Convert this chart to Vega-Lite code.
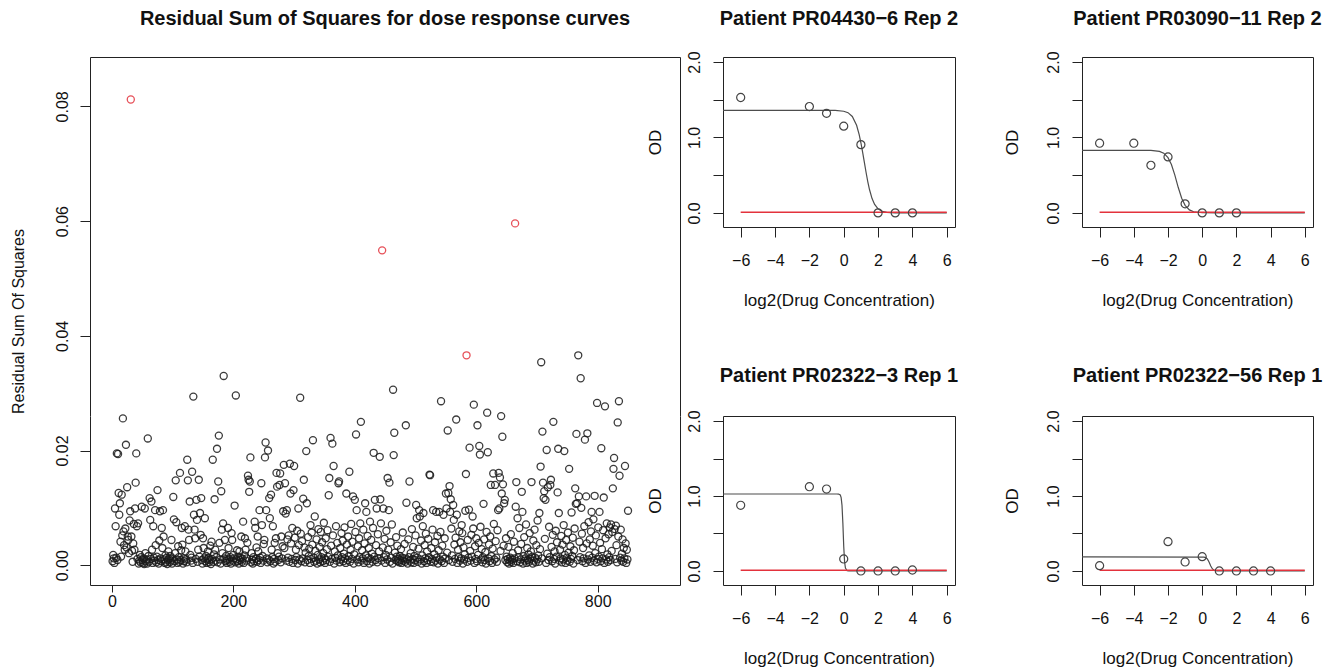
{
"$schema":"https://vega.github.io/schema/vega-lite/v6.json",
"padding":{"left":10,"top":8,"right":0,"bottom":0},
"background":"white",
"config":{
 "font":"Liberation Sans",
 "view":{"stroke":"#222222","strokeWidth":1},
 "axis":{"grid":false,"domain":false,"domainColor":"#222222","domainWidth":1,"tickSize":10,"tickColor":"#222222","labelFont":"Liberation Sans","titleFont":"Liberation Sans","labelFontSize":16,"labelColor":"#111111","titleFontSize":17,"titleFontWeight":"normal","titleColor":"#111111","labelFlush":false,"labelOverlap":false,"labelBound":false},
 "axisX":{"labelOverlap":false},
 "axisY":{"labelOverlap":false},
 "title":{"font":"Liberation Sans","fontSize":20,"fontWeight":"bold","color":"#111111","frame":"group","anchor":"middle","baseline":"alphabetic"}
},
"datasets":{
"rss":[
{"i":1,"r":0.0007},{"i":2,"r":0.0018},{"i":3,"r":0.0012},{"i":4,"r":0.0004},{"i":5,"r":0.0099},{"i":6,"r":0.0068},{"i":7,"r":0.0013},{"i":8,"r":0.0195},{"i":9,"r":0.0009},{"i":10,"r":0.0194},
{"i":11,"r":0.0126},{"i":12,"r":0.0088},{"i":13,"r":0.0108},{"i":14,"r":0.0041},{"i":15,"r":0.0015},{"i":16,"r":0.0123},{"i":17,"r":0.0052},{"i":18,"r":0.0256},{"i":19,"r":0.0059},{"i":20,"r":0.0035},
{"i":21,"r":0.0027},{"i":22,"r":0.0064},{"i":23,"r":0.0210},{"i":24,"r":0.0031},{"i":25,"r":0.0136},{"i":26,"r":0.0050},{"i":27,"r":0.0044},{"i":28,"r":0.0021},{"i":29,"r":0.0078},{"i":30,"r":0.0094},
{"i":31,"r":0.0812,"fit":"poor"},{"i":32,"r":0.0050},{"i":33,"r":0.0025},{"i":34,"r":0.0006},{"i":35,"r":0.0038},{"i":36,"r":0.0072},{"i":37,"r":0.0027},{"i":38,"r":0.0099},{"i":39,"r":0.0144},{"i":40,"r":0.0195},
{"i":41,"r":0.0068},{"i":42,"r":0.0011},{"i":43,"r":0.0073},{"i":44,"r":0.0003},{"i":45,"r":0.0008},{"i":46,"r":0.0018},{"i":47,"r":0.0005},{"i":48,"r":0.0014},{"i":49,"r":0.0102},{"i":50,"r":0.0009},
{"i":51,"r":0.0004},{"i":52,"r":0.0012},{"i":53,"r":0.0002},{"i":54,"r":0.0099},{"i":55,"r":0.0021},{"i":56,"r":0.0007},{"i":57,"r":0.0010},{"i":58,"r":0.0003},{"i":59,"r":0.0221},{"i":60,"r":0.0016},
{"i":61,"r":0.0006},{"i":62,"r":0.0117},{"i":63,"r":0.0079},{"i":64,"r":0.0011},{"i":65,"r":0.0111},{"i":66,"r":0.0027},{"i":67,"r":0.0004},{"i":68,"r":0.0068},{"i":69,"r":0.0013},{"i":70,"r":0.0008},
{"i":71,"r":0.0096},{"i":72,"r":0.0035},{"i":73,"r":0.0005},{"i":74,"r":0.0015},{"i":75,"r":0.0131},{"i":76,"r":0.0009},{"i":77,"r":0.0003},{"i":78,"r":0.0043},{"i":79,"r":0.0094},{"i":80,"r":0.0012},
{"i":81,"r":0.0007},{"i":82,"r":0.0065},{"i":83,"r":0.0030},{"i":84,"r":0.0096},{"i":85,"r":0.0050},{"i":86,"r":0.0010},{"i":87,"r":0.0004},{"i":88,"r":0.0017},{"i":89,"r":0.0006},{"i":90,"r":0.0013},
{"i":91,"r":0.0002},{"i":92,"r":0.0009},{"i":93,"r":0.0024},{"i":94,"r":0.0011},{"i":95,"r":0.0005},{"i":96,"r":0.0016},{"i":97,"r":0.0008},{"i":98,"r":0.0044},{"i":99,"r":0.0003},{"i":100,"r":0.0012},
{"i":101,"r":0.0119},{"i":102,"r":0.0080},{"i":103,"r":0.0007},{"i":104,"r":0.0021},{"i":105,"r":0.0148},{"i":106,"r":0.0075},{"i":107,"r":0.0010},{"i":108,"r":0.0004},{"i":109,"r":0.0033},{"i":110,"r":0.0014},
{"i":111,"r":0.0006},{"i":112,"r":0.0161},{"i":113,"r":0.0009},{"i":114,"r":0.0026},{"i":115,"r":0.0065},{"i":116,"r":0.0036},{"i":117,"r":0.0003},{"i":118,"r":0.0012},{"i":119,"r":0.0007},{"i":120,"r":0.0068},
{"i":121,"r":0.0024},{"i":122,"r":0.0010},{"i":123,"r":0.0005},{"i":124,"r":0.0184},{"i":125,"r":0.0148},{"i":126,"r":0.0062},{"i":127,"r":0.0044},{"i":128,"r":0.0111},{"i":129,"r":0.0018},{"i":130,"r":0.0008},
{"i":131,"r":0.0013},{"i":132,"r":0.0163},{"i":133,"r":0.0004},{"i":134,"r":0.0294},{"i":135,"r":0.0088},{"i":136,"r":0.0062},{"i":137,"r":0.0047},{"i":138,"r":0.0011},{"i":139,"r":0.0114},{"i":140,"r":0.0079},
{"i":141,"r":0.0006},{"i":142,"r":0.0027},{"i":143,"r":0.0149},{"i":144,"r":0.0015},{"i":145,"r":0.0091},{"i":146,"r":0.0053},{"i":147,"r":0.0117},{"i":148,"r":0.0009},{"i":149,"r":0.0003},{"i":150,"r":0.0047},
{"i":151,"r":0.0030},{"i":152,"r":0.0012},{"i":153,"r":0.0082},{"i":154,"r":0.0007},{"i":155,"r":0.0016},{"i":156,"r":0.0004},{"i":157,"r":0.0010},{"i":158,"r":0.0024},{"i":159,"r":0.0013},{"i":160,"r":0.0005},
{"i":161,"r":0.0009},{"i":162,"r":0.0034},{"i":163,"r":0.0002},{"i":164,"r":0.0041},{"i":165,"r":0.0011},{"i":166,"r":0.0184},{"i":167,"r":0.0006},{"i":168,"r":0.0019},{"i":169,"r":0.0115},{"i":170,"r":0.0027},
{"i":171,"r":0.0008},{"i":172,"r":0.0014},{"i":173,"r":0.0203},{"i":174,"r":0.0005},{"i":175,"r":0.0146},{"i":176,"r":0.0226},{"i":177,"r":0.0039},{"i":178,"r":0.0010},{"i":179,"r":0.0003},{"i":180,"r":0.0129},
{"i":181,"r":0.0062},{"i":182,"r":0.0021},{"i":183,"r":0.0073},{"i":184,"r":0.0330},{"i":185,"r":0.0012},{"i":186,"r":0.0044},{"i":187,"r":0.0007},{"i":188,"r":0.0016},{"i":189,"r":0.0004},{"i":190,"r":0.0009},
{"i":191,"r":0.0065},{"i":192,"r":0.0030},{"i":193,"r":0.0011},{"i":194,"r":0.0006},{"i":195,"r":0.0014},{"i":196,"r":0.0003},{"i":197,"r":0.0056},{"i":198,"r":0.0044},{"i":199,"r":0.0008},{"i":200,"r":0.0018},
{"i":201,"r":0.0012},{"i":202,"r":0.0104},{"i":203,"r":0.0005},{"i":204,"r":0.0296},{"i":205,"r":0.0010},{"i":206,"r":0.0026},{"i":207,"r":0.0007},{"i":208,"r":0.0015},{"i":209,"r":0.0003},{"i":210,"r":0.0024},
{"i":211,"r":0.0009},{"i":212,"r":0.0013},{"i":213,"r":0.0050},{"i":214,"r":0.0006},{"i":215,"r":0.0011},{"i":216,"r":0.0076},{"i":217,"r":0.0004},{"i":218,"r":0.0017},{"i":219,"r":0.0047},{"i":220,"r":0.0027},
{"i":221,"r":0.0008},{"i":222,"r":0.0012},{"i":223,"r":0.0039},{"i":224,"r":0.0156},{"i":225,"r":0.0149},{"i":226,"r":0.0128},{"i":227,"r":0.0146},{"i":228,"r":0.0188},{"i":229,"r":0.0005},{"i":230,"r":0.0021},
{"i":231,"r":0.0010},{"i":232,"r":0.0003},{"i":233,"r":0.0014},{"i":234,"r":0.0007},{"i":235,"r":0.0076},{"i":236,"r":0.0065},{"i":237,"r":0.0011},{"i":238,"r":0.0031},{"i":239,"r":0.0006},{"i":240,"r":0.0050},
{"i":241,"r":0.0024},{"i":242,"r":0.0009},{"i":243,"r":0.0096},{"i":244,"r":0.0013},{"i":245,"r":0.0004},{"i":246,"r":0.0143},{"i":247,"r":0.0070},{"i":248,"r":0.0016},{"i":249,"r":0.0008},{"i":250,"r":0.0037},
{"i":251,"r":0.0044},{"i":252,"r":0.0188},{"i":253,"r":0.0214},{"i":254,"r":0.0096},{"i":255,"r":0.0012},{"i":256,"r":0.0005},{"i":257,"r":0.0200},{"i":258,"r":0.0010},{"i":259,"r":0.0117},{"i":260,"r":0.0082},
{"i":261,"r":0.0007},{"i":262,"r":0.0123},{"i":263,"r":0.0027},{"i":264,"r":0.0014},{"i":265,"r":0.0068},{"i":266,"r":0.0003},{"i":267,"r":0.0011},{"i":268,"r":0.0039},{"i":269,"r":0.0006},{"i":270,"r":0.0047},
{"i":271,"r":0.0161},{"i":272,"r":0.0137},{"i":273,"r":0.0021},{"i":274,"r":0.0009},{"i":275,"r":0.0015},{"i":276,"r":0.0140},{"i":277,"r":0.0160},{"i":278,"r":0.0005},{"i":279,"r":0.0050},{"i":280,"r":0.0012},
{"i":281,"r":0.0033},{"i":282,"r":0.0094},{"i":283,"r":0.0175},{"i":284,"r":0.0030},{"i":285,"r":0.0143},{"i":286,"r":0.0090},{"i":287,"r":0.0008},{"i":288,"r":0.0096},{"i":289,"r":0.0045},{"i":290,"r":0.0013},
{"i":291,"r":0.0052},{"i":292,"r":0.0006},{"i":293,"r":0.0177},{"i":294,"r":0.0125},{"i":295,"r":0.0038},{"i":296,"r":0.0011},{"i":297,"r":0.0065},{"i":298,"r":0.0004},{"i":299,"r":0.0131},{"i":300,"r":0.0173},
{"i":301,"r":0.0048},{"i":302,"r":0.0009},{"i":303,"r":0.0027},{"i":304,"r":0.0014},{"i":305,"r":0.0060},{"i":306,"r":0.0003},{"i":307,"r":0.0099},{"i":308,"r":0.0035},{"i":309,"r":0.0010},{"i":310,"r":0.0292},
{"i":311,"r":0.0055},{"i":312,"r":0.0007},{"i":313,"r":0.0042},{"i":314,"r":0.0012},{"i":315,"r":0.0116},{"i":316,"r":0.0149},{"i":317,"r":0.0031},{"i":318,"r":0.0005},{"i":319,"r":0.0022},{"i":320,"r":0.0199},
{"i":321,"r":0.0108},{"i":322,"r":0.0009},{"i":323,"r":0.0049},{"i":324,"r":0.0016},{"i":325,"r":0.0029},{"i":326,"r":0.0004},{"i":327,"r":0.0070},{"i":328,"r":0.0011},{"i":329,"r":0.0057},{"i":330,"r":0.0036},
{"i":331,"r":0.0218},{"i":332,"r":0.0013},{"i":333,"r":0.0006},{"i":334,"r":0.0085},{"i":335,"r":0.0025},{"i":336,"r":0.0008},{"i":337,"r":0.0045},{"i":338,"r":0.0003},{"i":339,"r":0.0018},{"i":340,"r":0.0063},
{"i":341,"r":0.0010},{"i":342,"r":0.0032},{"i":343,"r":0.0005},{"i":344,"r":0.0058},{"i":345,"r":0.0014},{"i":346,"r":0.0040},{"i":347,"r":0.0007},{"i":348,"r":0.0021},{"i":349,"r":0.0074},{"i":350,"r":0.0012},
{"i":351,"r":0.0004},{"i":352,"r":0.0047},{"i":353,"r":0.0009},{"i":354,"r":0.0028},{"i":355,"r":0.0061},{"i":356,"r":0.0015},{"i":357,"r":0.0122},{"i":358,"r":0.0152},{"i":359,"r":0.0006},{"i":360,"r":0.0222},
{"i":361,"r":0.0034},{"i":362,"r":0.0011},{"i":363,"r":0.0212},{"i":364,"r":0.0052},{"i":365,"r":0.0173},{"i":366,"r":0.0003},{"i":367,"r":0.0024},{"i":368,"r":0.0013},{"i":369,"r":0.0068},{"i":370,"r":0.0008},
{"i":371,"r":0.0039},{"i":372,"r":0.0017},{"i":373,"r":0.0143},{"i":374,"r":0.0146},{"i":375,"r":0.0005},{"i":376,"r":0.0030},{"i":377,"r":0.0010},{"i":378,"r":0.0056},{"i":379,"r":0.0014},{"i":380,"r":0.0043},
{"i":381,"r":0.0007},{"i":382,"r":0.0020},{"i":383,"r":0.0066},{"i":384,"r":0.0012},{"i":385,"r":0.0004},{"i":386,"r":0.0125},{"i":387,"r":0.0036},{"i":388,"r":0.0009},{"i":389,"r":0.0050},{"i":390,"r":0.0016},
{"i":391,"r":0.0163},{"i":392,"r":0.0006},{"i":393,"r":0.0027},{"i":394,"r":0.0072},{"i":395,"r":0.0011},{"i":396,"r":0.0041},{"i":397,"r":0.0120},{"i":398,"r":0.0003},{"i":399,"r":0.0019},{"i":400,"r":0.0114},
{"i":401,"r":0.0058},{"i":402,"r":0.0228},{"i":403,"r":0.0096},{"i":404,"r":0.0010},{"i":405,"r":0.0033},{"i":406,"r":0.0005},{"i":407,"r":0.0047},{"i":408,"r":0.0014},{"i":409,"r":0.0073},{"i":410,"r":0.0250},
{"i":411,"r":0.0008},{"i":412,"r":0.0026},{"i":413,"r":0.0012},{"i":414,"r":0.0062},{"i":415,"r":0.0004},{"i":416,"r":0.0038},{"i":417,"r":0.0108},{"i":418,"r":0.0017},{"i":419,"r":0.0093},{"i":420,"r":0.0007},
{"i":421,"r":0.0051},{"i":422,"r":0.0013},{"i":423,"r":0.0030},{"i":424,"r":0.0003},{"i":425,"r":0.0076},{"i":426,"r":0.0011},{"i":427,"r":0.0044},{"i":428,"r":0.0020},{"i":429,"r":0.0006},{"i":430,"r":0.0065},
{"i":431,"r":0.0196},{"i":432,"r":0.0015},{"i":433,"r":0.0114},{"i":434,"r":0.0009},{"i":435,"r":0.0035},{"i":436,"r":0.0099},{"i":437,"r":0.0005},{"i":438,"r":0.0054},{"i":439,"r":0.0012},{"i":440,"r":0.0024},
{"i":441,"r":0.0189},{"i":442,"r":0.0115},{"i":443,"r":0.0073},{"i":444,"r":0.0008},{"i":445,"r":0.0549,"fit":"poor"},{"i":446,"r":0.0031},{"i":447,"r":0.0099},{"i":448,"r":0.0014},{"i":449,"r":0.0046},{"i":450,"r":0.0004},
{"i":451,"r":0.0018},{"i":452,"r":0.0060},{"i":453,"r":0.0010},{"i":454,"r":0.0152},{"i":455,"r":0.0027},{"i":456,"r":0.0096},{"i":457,"r":0.0144},{"i":458,"r":0.0006},{"i":459,"r":0.0040},{"i":460,"r":0.0013},
{"i":461,"r":0.0071},{"i":462,"r":0.0003},{"i":463,"r":0.0306},{"i":464,"r":0.0192},{"i":465,"r":0.0231},{"i":466,"r":0.0022},{"i":467,"r":0.0009},{"i":468,"r":0.0049},{"i":469,"r":0.0015},{"i":470,"r":0.0034},
{"i":471,"r":0.0007},{"i":472,"r":0.0011},{"i":473,"r":0.0005},{"i":474,"r":0.0016},{"i":475,"r":0.0009},{"i":476,"r":0.0028},{"i":477,"r":0.0004},{"i":478,"r":0.0013},{"i":479,"r":0.0057},{"i":480,"r":0.0008},
{"i":481,"r":0.0012},{"i":482,"r":0.0037},{"i":483,"r":0.0006},{"i":484,"r":0.0244},{"i":485,"r":0.0109},{"i":486,"r":0.0010},{"i":487,"r":0.0003},{"i":488,"r":0.0045},{"i":489,"r":0.0014},{"i":490,"r":0.0146},
{"i":491,"r":0.0008},{"i":492,"r":0.0021},{"i":493,"r":0.0005},{"i":494,"r":0.0063},{"i":495,"r":0.0011},{"i":496,"r":0.0032},{"i":497,"r":0.0004},{"i":498,"r":0.0016},{"i":499,"r":0.0009},{"i":500,"r":0.0052},
{"i":501,"r":0.0105},{"i":502,"r":0.0082},{"i":503,"r":0.0013},{"i":504,"r":0.0006},{"i":505,"r":0.0029},{"i":506,"r":0.0096},{"i":507,"r":0.0085},{"i":508,"r":0.0010},{"i":509,"r":0.0043},{"i":510,"r":0.0003},
{"i":511,"r":0.0017},{"i":512,"r":0.0068},{"i":513,"r":0.0091},{"i":514,"r":0.0007},{"i":515,"r":0.0035},{"i":516,"r":0.0012},{"i":517,"r":0.0055},{"i":518,"r":0.0004},{"i":519,"r":0.0024},{"i":520,"r":0.0009},
{"i":521,"r":0.0046},{"i":522,"r":0.0014},{"i":523,"r":0.0158},{"i":524,"r":0.0157},{"i":525,"r":0.0006},{"i":526,"r":0.0030},{"i":527,"r":0.0011},{"i":528,"r":0.0062},{"i":529,"r":0.0096},{"i":530,"r":0.0005},
{"i":531,"r":0.0019},{"i":532,"r":0.0040},{"i":533,"r":0.0008},{"i":534,"r":0.0093},{"i":535,"r":0.0013},{"i":536,"r":0.0051},{"i":537,"r":0.0003},{"i":538,"r":0.0026},{"i":539,"r":0.0093},{"i":540,"r":0.0010},
{"i":541,"r":0.0058},{"i":542,"r":0.0286},{"i":543,"r":0.0007},{"i":544,"r":0.0034},{"i":545,"r":0.0015},{"i":546,"r":0.0088},{"i":547,"r":0.0004},{"i":548,"r":0.0047},{"i":549,"r":0.0012},{"i":550,"r":0.0125},
{"i":551,"r":0.0099},{"i":552,"r":0.0022},{"i":553,"r":0.0235},{"i":554,"r":0.0126},{"i":555,"r":0.0009},{"i":556,"r":0.0138},{"i":557,"r":0.0093},{"i":558,"r":0.0115},{"i":559,"r":0.0064},{"i":560,"r":0.0017},
{"i":561,"r":0.0006},{"i":562,"r":0.0105},{"i":563,"r":0.0079},{"i":564,"r":0.0036},{"i":565,"r":0.0011},{"i":566,"r":0.0048},{"i":567,"r":0.0254},{"i":568,"r":0.0088},{"i":569,"r":0.0004},{"i":570,"r":0.0027},
{"i":571,"r":0.0014},{"i":572,"r":0.0059},{"i":573,"r":0.0008},{"i":574,"r":0.0040},{"i":575,"r":0.0012},{"i":576,"r":0.0070},{"i":577,"r":0.0056},{"i":578,"r":0.0003},{"i":579,"r":0.0031},{"i":580,"r":0.0010},
{"i":581,"r":0.0019},{"i":582,"r":0.0095},{"i":583,"r":0.0159},{"i":584,"r":0.0366,"fit":"poor"},{"i":585,"r":0.0006},{"i":586,"r":0.0044},{"i":587,"r":0.0013},{"i":588,"r":0.0097},{"i":589,"r":0.0205},{"i":590,"r":0.0025},
{"i":591,"r":0.0008},{"i":592,"r":0.0053},{"i":593,"r":0.0015},{"i":594,"r":0.0085},{"i":595,"r":0.0064},{"i":596,"r":0.0280},{"i":597,"r":0.0004},{"i":598,"r":0.0033},{"i":599,"r":0.0011},{"i":600,"r":0.0047},
{"i":601,"r":0.0007},{"i":602,"r":0.0244},{"i":603,"r":0.0018},{"i":604,"r":0.0039},{"i":605,"r":0.0208},{"i":606,"r":0.0193},{"i":607,"r":0.0067},{"i":608,"r":0.0010},{"i":609,"r":0.0028},{"i":610,"r":0.0005},
{"i":611,"r":0.0014},{"i":612,"r":0.0107},{"i":613,"r":0.0045},{"i":614,"r":0.0009},{"i":615,"r":0.0023},{"i":616,"r":0.0003},{"i":617,"r":0.0058},{"i":618,"r":0.0266},{"i":619,"r":0.0197},{"i":620,"r":0.0012},
{"i":621,"r":0.0036},{"i":622,"r":0.0007},{"i":623,"r":0.0050},{"i":624,"r":0.0140},{"i":625,"r":0.0016},{"i":626,"r":0.0004},{"i":627,"r":0.0029},{"i":628,"r":0.0160},{"i":629,"r":0.0072},{"i":630,"r":0.0010},
{"i":631,"r":0.0140},{"i":632,"r":0.0042},{"i":633,"r":0.0013},{"i":634,"r":0.0006},{"i":635,"r":0.0061},{"i":636,"r":0.0096},{"i":637,"r":0.0161},{"i":638,"r":0.0099},{"i":639,"r":0.0153},{"i":640,"r":0.0025},
{"i":641,"r":0.0260},{"i":642,"r":0.0125},{"i":643,"r":0.0224},{"i":644,"r":0.0141},{"i":645,"r":0.0034},{"i":646,"r":0.0108},{"i":647,"r":0.0114},{"i":648,"r":0.0009},{"i":649,"r":0.0047},{"i":650,"r":0.0015},
{"i":651,"r":0.0005},{"i":652,"r":0.0011},{"i":653,"r":0.0032},{"i":654,"r":0.0003},{"i":655,"r":0.0008},{"i":656,"r":0.0013},{"i":657,"r":0.0054},{"i":658,"r":0.0006},{"i":659,"r":0.0010},{"i":660,"r":0.0021},
{"i":661,"r":0.0004},{"i":662,"r":0.0041},{"i":663,"r":0.0012},{"i":664,"r":0.0596,"fit":"poor"},{"i":665,"r":0.0102},{"i":666,"r":0.0145},{"i":667,"r":0.0007},{"i":668,"r":0.0082},{"i":669,"r":0.0026},{"i":670,"r":0.0014},
{"i":671,"r":0.0065},{"i":672,"r":0.0005},{"i":673,"r":0.0010},{"i":674,"r":0.0037},{"i":675,"r":0.0128},{"i":676,"r":0.0093},{"i":677,"r":0.0003},{"i":678,"r":0.0016},{"i":679,"r":0.0049},{"i":680,"r":0.0008},
{"i":681,"r":0.0012},{"i":682,"r":0.0071},{"i":683,"r":0.0004},{"i":684,"r":0.0030},{"i":685,"r":0.0009},{"i":686,"r":0.0019},{"i":687,"r":0.0006},{"i":688,"r":0.0056},{"i":689,"r":0.0011},{"i":690,"r":0.0024},
{"i":691,"r":0.0145},{"i":692,"r":0.0015},{"i":693,"r":0.0003},{"i":694,"r":0.0043},{"i":695,"r":0.0008},{"i":696,"r":0.0062},{"i":697,"r":0.0013},{"i":698,"r":0.0005},{"i":699,"r":0.0035},{"i":700,"r":0.0010},
{"i":701,"r":0.0078},{"i":702,"r":0.0017},{"i":703,"r":0.0006},{"i":704,"r":0.0091},{"i":705,"r":0.0028},{"i":706,"r":0.0172},{"i":707,"r":0.0354},{"i":708,"r":0.0012},{"i":709,"r":0.0233},{"i":710,"r":0.0144},
{"i":711,"r":0.0117},{"i":712,"r":0.0129},{"i":713,"r":0.0046},{"i":714,"r":0.0114},{"i":715,"r":0.0004},{"i":716,"r":0.0201},{"i":717,"r":0.0020},{"i":718,"r":0.0136},{"i":719,"r":0.0009},{"i":720,"r":0.0067},
{"i":721,"r":0.0014},{"i":722,"r":0.0140},{"i":723,"r":0.0149},{"i":724,"r":0.0032},{"i":725,"r":0.0007},{"i":726,"r":0.0053},{"i":727,"r":0.0250},{"i":728,"r":0.0011},{"i":729,"r":0.0024},{"i":730,"r":0.0003},
{"i":731,"r":0.0060},{"i":732,"r":0.0015},{"i":733,"r":0.0040},{"i":734,"r":0.0127},{"i":735,"r":0.0203},{"i":736,"r":0.0091},{"i":737,"r":0.0008},{"i":738,"r":0.0027},{"i":739,"r":0.0012},{"i":740,"r":0.0051},
{"i":741,"r":0.0005},{"i":742,"r":0.0036},{"i":743,"r":0.0010},{"i":744,"r":0.0070},{"i":745,"r":0.0199},{"i":746,"r":0.0018},{"i":747,"r":0.0004},{"i":748,"r":0.0044},{"i":749,"r":0.0013},{"i":750,"r":0.0008},
{"i":751,"r":0.0057},{"i":752,"r":0.0022},{"i":753,"r":0.0168},{"i":754,"r":0.0006},{"i":755,"r":0.0033},{"i":756,"r":0.0011},{"i":757,"r":0.0092},{"i":758,"r":0.0016},{"i":759,"r":0.0048},{"i":760,"r":0.0003},
{"i":761,"r":0.0026},{"i":762,"r":0.0064},{"i":763,"r":0.0134},{"i":764,"r":0.0107},{"i":765,"r":0.0229},{"i":766,"r":0.0108},{"i":767,"r":0.0009},{"i":768,"r":0.0366},{"i":769,"r":0.0120},{"i":770,"r":0.0041},
{"i":771,"r":0.0014},{"i":772,"r":0.0326},{"i":773,"r":0.0100},{"i":774,"r":0.0055},{"i":775,"r":0.0007},{"i":776,"r":0.0030},{"i":777,"r":0.0012},{"i":778,"r":0.0068},{"i":779,"r":0.0219},{"i":780,"r":0.0004},
{"i":781,"r":0.0120},{"i":782,"r":0.0038},{"i":783,"r":0.0230},{"i":784,"r":0.0010},{"i":785,"r":0.0075},{"i":786,"r":0.0017},{"i":787,"r":0.0045},{"i":788,"r":0.0006},{"i":789,"r":0.0059},{"i":790,"r":0.0093},
{"i":791,"r":0.0013},{"i":792,"r":0.0034},{"i":793,"r":0.0080},{"i":794,"r":0.0008},{"i":795,"r":0.0121},{"i":796,"r":0.0021},{"i":797,"r":0.0052},{"i":798,"r":0.0005},{"i":799,"r":0.0283},{"i":800,"r":0.0011},
{"i":801,"r":0.0066},{"i":802,"r":0.0015},{"i":803,"r":0.0093},{"i":804,"r":0.0039},{"i":805,"r":0.0007},{"i":806,"r":0.0204},{"i":807,"r":0.0028},{"i":808,"r":0.0012},{"i":809,"r":0.0061},{"i":810,"r":0.0118},
{"i":811,"r":0.0004},{"i":812,"r":0.0277},{"i":813,"r":0.0047},{"i":814,"r":0.0010},{"i":815,"r":0.0073},{"i":816,"r":0.0019},{"i":817,"r":0.0006},{"i":818,"r":0.0054},{"i":819,"r":0.0014},{"i":820,"r":0.0066},
{"i":821,"r":0.0009},{"i":822,"r":0.0071},{"i":823,"r":0.0025},{"i":824,"r":0.0058},{"i":825,"r":0.0134},{"i":826,"r":0.0168},{"i":827,"r":0.0187},{"i":828,"r":0.0063},{"i":829,"r":0.0011},{"i":830,"r":0.0069},
{"i":831,"r":0.0035},{"i":832,"r":0.0005},{"i":833,"r":0.0249},{"i":834,"r":0.0050},{"i":835,"r":0.0286},{"i":836,"r":0.0156},{"i":837,"r":0.0013},{"i":838,"r":0.0062},{"i":839,"r":0.0008},{"i":840,"r":0.0020},
{"i":841,"r":0.0045},{"i":842,"r":0.0006},{"i":843,"r":0.0030},{"i":844,"r":0.0012},{"i":845,"r":0.0173},{"i":846,"r":0.0038},{"i":847,"r":0.0004},{"i":848,"r":0.0027},{"i":849,"r":0.0010},{"i":850,"r":0.0095}
],
"fit":[
{"panel":"A","x":-7.03,"od":1.36},{"panel":"A","x":-6,"od":1.36},{"panel":"A","x":-4,"od":1.36},{"panel":"A","x":-2,"od":1.36},{"panel":"A","x":-1,"od":1.3598},{"panel":"A","x":-0.5,"od":1.358},{"panel":"A","x":0,"od":1.348},{"panel":"A","x":0.25,"od":1.329},{"panel":"A","x":0.5,"od":1.279},{"panel":"A","x":0.75,"od":1.162},{"panel":"A","x":0.9,"od":1.038},{"panel":"A","x":1,"od":0.93},{"panel":"A","x":1.1,"od":0.806},{"panel":"A","x":1.2,"od":0.672},{"panel":"A","x":1.3,"od":0.539},{"panel":"A","x":1.4,"od":0.416},{"panel":"A","x":1.5,"od":0.31},{"panel":"A","x":1.65,"od":0.19},{"panel":"A","x":1.8,"od":0.112},{"panel":"A","x":2,"od":0.053},{"panel":"A","x":2.25,"od":0.02},{"panel":"A","x":2.5,"od":0.0075},{"panel":"A","x":3,"od":0.001},{"panel":"A","x":4,"od":0},{"panel":"A","x":6,"od":0},
{"panel":"B","x":-7.03,"od":0.83},{"panel":"B","x":-4,"od":0.83},{"panel":"B","x":-3,"od":0.828},{"panel":"B","x":-2.5,"od":0.815},{"panel":"B","x":-2.25,"od":0.792},{"panel":"B","x":-2,"od":0.733},{"panel":"B","x":-1.8,"od":0.641},{"panel":"B","x":-1.6,"od":0.5},{"panel":"B","x":-1.5,"od":0.418},{"panel":"B","x":-1.4,"od":0.336},{"panel":"B","x":-1.2,"od":0.194},{"panel":"B","x":-1,"od":0.1},{"panel":"B","x":-0.75,"od":0.04},{"panel":"B","x":-0.5,"od":0.015},{"panel":"B","x":0,"od":0.002},{"panel":"B","x":1,"od":0},{"panel":"B","x":6,"od":0},
{"panel":"C","x":-7.03,"od":1.027},{"panel":"C","x":-0.4,"od":1.027},{"panel":"C","x":-0.3,"od":1.026},{"panel":"C","x":-0.2,"od":1.013},{"panel":"C","x":-0.15,"od":0.978},{"panel":"C","x":-0.1,"od":0.875},{"panel":"C","x":-0.05,"od":0.639},{"panel":"C","x":0,"od":0.33},{"panel":"C","x":0.05,"od":0.122},{"panel":"C","x":0.1,"od":0.038},{"panel":"C","x":0.2,"od":0.003},{"panel":"C","x":0.3,"od":0},{"panel":"C","x":6,"od":0},
{"panel":"D","x":-7.03,"od":0.187},{"panel":"D","x":0,"od":0.186},{"panel":"D","x":0.1,"od":0.184},{"panel":"D","x":0.2,"od":0.178},{"panel":"D","x":0.3,"od":0.16},{"panel":"D","x":0.4,"od":0.121},{"panel":"D","x":0.5,"od":0.066},{"panel":"D","x":0.6,"od":0.027},{"panel":"D","x":0.7,"od":0.009},{"panel":"D","x":0.85,"od":0.0015},{"panel":"D","x":1,"od":0},{"panel":"D","x":6,"od":0}
],
"obs":[
{"panel":"A","x":-6,"od":1.53},{"panel":"A","x":-2,"od":1.41},{"panel":"A","x":-1,"od":1.32},{"panel":"A","x":0,"od":1.15},{"panel":"A","x":1,"od":0.905},{"panel":"A","x":2,"od":0},{"panel":"A","x":3,"od":0},{"panel":"A","x":4,"od":0},
{"panel":"B","x":-6,"od":0.924},{"panel":"B","x":-4,"od":0.924},{"panel":"B","x":-3,"od":0.631},{"panel":"B","x":-2,"od":0.742},{"panel":"B","x":-1,"od":0.12},{"panel":"B","x":0,"od":0},{"panel":"B","x":1,"od":0},{"panel":"B","x":2,"od":0},
{"panel":"C","x":-6,"od":0.876},{"panel":"C","x":-2,"od":1.124},{"panel":"C","x":-1,"od":1.093},{"panel":"C","x":0,"od":0.16},{"panel":"C","x":1,"od":0},{"panel":"C","x":2,"od":0},{"panel":"C","x":3,"od":0},{"panel":"C","x":4,"od":0.013},
{"panel":"D","x":-6,"od":0.071},{"panel":"D","x":-2,"od":0.391},{"panel":"D","x":-1,"od":0.12},{"panel":"D","x":0,"od":0.191},{"panel":"D","x":1,"od":0},{"panel":"D","x":2,"od":0},{"panel":"D","x":3,"od":0},{"panel":"D","x":4,"od":0}
],
"ref":[
{"panel":"A","x":-6,"od":0.01},{"panel":"A","x":6,"od":0.01},
{"panel":"B","x":-6,"od":0.01},{"panel":"B","x":6,"od":0.01},
{"panel":"C","x":-6,"od":0.01},{"panel":"C","x":6,"od":0.01},
{"panel":"D","x":-6,"od":0.01},{"panel":"D","x":6,"od":0.01}
]
},
"columns":4,
"align":"each",
"bounds":"flush",
"spacing":{"row":0,"column":43},
"resolve":{"scale":{"x":"independent","y":"independent"}},
"concat":[
{
 "width":590,"height":359,
 "view":{"stroke":null},
 "title":{"text":"Residual Sum of Squares for dose response curves","offset":28},
 "resolve":{"scale":{"y":"independent"}},
 "layer":[
  {"data":{"name":"rss"},"transform":[{"filter":"datum.r >= 0.02602"}],
   "mark":{"type":"point","shape":"circle","filled":false,"size":50,"strokeWidth":1.3,"opacity":0.85},
   "encoding":{
    "x":{"field":"i","type":"quantitative","scale":{"domain":[-36.2,935.6],"nice":false,"zero":false},"axis":{"orient":"top","domain":true,"ticks":false,"labels":false,"title":null}},
    "y":{"field":"r","type":"quantitative","scale":{"domain":[0.02602,0.08861],"nice":false,"zero":false},"axis":{"values":[0.04,0.06,0.08],"format":".2f","domain":true,"labelAngle":270,"labelAlign":"center","labelBaseline":"middle","labelPadding":18,"title":"Residual Sum Of Squares","titleAngle":270,"titleBaseline":"middle","titleX":-72,"titleY":264,"titleFontSize":16}},
    "color":{"condition":{"test":"datum.fit === 'poor'","value":"#e3323c"},"value":"#1a1a1a"}
   }},
  {"data":{"values":[]},
   "mark":{"type":"point","opacity":0},
   "encoding":{
    "y":{"field":"r","type":"quantitative","scale":{"domain":[0.02602,0.08861],"nice":false,"zero":false},"axis":{"orient":"right","domain":true,"ticks":false,"labels":false,"title":null}}
   }}
 ]
},
{
 "width":232,"height":170,
 "title":{"text":"Patient PR04430−6 Rep 2","offset":22},
 "encoding":{
  "x":{"field":"x","type":"quantitative","scale":{"domain":[-7.03,6.48],"nice":false,"zero":false},"axis":{"values":[-6,-4,-2,0,2,4,6],"labelOverlap":false,"labelPadding":15,"title":"log2(Drug Concentration)","titleY":73,"titleBaseline":"middle"}},
  "y":{"field":"od","type":"quantitative","scale":{"domain":[-0.187,2.067],"nice":false,"zero":false},"axis":{"values":[0,0.5,1,1.5,2],"labelOverlap":false,"labelExpr":"datum.value % 1 === 0 ? format(datum.value, '.1f') : ''","labelAngle":270,"labelAlign":"center","labelBaseline":"middle","labelPadding":19,"title":"OD","titleAngle":270,"titleBaseline":"middle","titleX":-68}}
 },
 "layer":[
  {"data":{"name":"fit"},"transform":[{"filter":"datum.panel === 'A'"}],"mark":{"type":"line","color":"#4d4d4d","strokeWidth":1.2},"encoding":{}},
  {"data":{"name":"ref"},"transform":[{"filter":"datum.panel === 'A'"}],"mark":{"type":"line","color":"#e3323c","strokeWidth":1.5},"encoding":{}},
  {"data":{"name":"obs"},"transform":[{"filter":"datum.panel === 'A'"}],"mark":{"type":"point","shape":"circle","filled":false,"size":65,"color":"#444444","strokeWidth":1.2,"opacity":1},"encoding":{}}
 ]
},
{
 "width":41,"height":1,"view":{"stroke":null},
 "data":{"values":[{}]},
 "mark":{"type":"point","opacity":0},
 "encoding":{}
},
{
 "width":231,"height":170,
 "title":{"text":"Patient PR03090−11 Rep 2","offset":22},
 "encoding":{
  "x":{"field":"x","type":"quantitative","scale":{"domain":[-7.03,6.48],"nice":false,"zero":false},"axis":{"values":[-6,-4,-2,0,2,4,6],"labelOverlap":false,"labelPadding":15,"title":"log2(Drug Concentration)","titleY":73,"titleBaseline":"middle"}},
  "y":{"field":"od","type":"quantitative","scale":{"domain":[-0.187,2.067],"nice":false,"zero":false},"axis":{"values":[0,0.5,1,1.5,2],"labelOverlap":false,"labelExpr":"datum.value % 1 === 0 ? format(datum.value, '.1f') : ''","labelAngle":270,"labelAlign":"center","labelBaseline":"middle","labelPadding":19,"title":"OD","titleAngle":270,"titleBaseline":"middle","titleX":-70}}
 },
 "layer":[
  {"data":{"name":"fit"},"transform":[{"filter":"datum.panel === 'B'"}],"mark":{"type":"line","color":"#4d4d4d","strokeWidth":1.2},"encoding":{}},
  {"data":{"name":"ref"},"transform":[{"filter":"datum.panel === 'B'"}],"mark":{"type":"line","color":"#e3323c","strokeWidth":1.5},"encoding":{}},
  {"data":{"name":"obs"},"transform":[{"filter":"datum.panel === 'B'"}],"mark":{"type":"point","shape":"circle","filled":false,"size":65,"color":"#444444","strokeWidth":1.2,"opacity":1},"encoding":{}}
 ]
},
{
 "width":590,"height":169,
 "view":{"stroke":null},
 "resolve":{"scale":{"y":"independent"}},
 "layer":[
  {"data":{"name":"rss"},"transform":[{"filter":"datum.r < 0.02602"}],
   "mark":{"type":"point","shape":"circle","filled":false,"size":50,"strokeWidth":1.3,"opacity":0.85},
   "encoding":{
    "x":{"field":"i","type":"quantitative","scale":{"domain":[-36.2,935.6],"nice":false,"zero":false},"axis":{"values":[0,200,400,600,800],"domain":true,"labelOverlap":false,"title":null,"labelPadding":1,"tickSize":7}},
    "y":{"field":"r","type":"quantitative","scale":{"domain":[-0.00345,0.02602],"nice":false,"zero":false},"axis":{"values":[0,0.02],"format":".2f","domain":true,"labelAngle":270,"labelAlign":"center","labelBaseline":"middle","labelPadding":18,"title":null}},
    "color":{"condition":{"test":"datum.fit === 'poor'","value":"#e3323c"},"value":"#1a1a1a"}
   }},
  {"data":{"values":[]},
   "mark":{"type":"point","opacity":0},
   "encoding":{
    "y":{"field":"r","type":"quantitative","scale":{"domain":[-0.00345,0.02602],"nice":false,"zero":false},"axis":{"orient":"right","domain":true,"ticks":false,"labels":false,"title":null}}
   }}
 ]
},
{
 "width":232,"height":169,
 "title":{"text":"Patient PR02322−3 Rep 1","offset":24},
 "encoding":{
  "x":{"field":"x","type":"quantitative","scale":{"domain":[-7.03,6.48],"nice":false,"zero":false},"axis":{"values":[-6,-4,-2,0,2,4,6],"labelOverlap":false,"labelPadding":15,"title":"log2(Drug Concentration)","titleY":73,"titleBaseline":"middle"}},
  "y":{"field":"od","type":"quantitative","scale":{"domain":[-0.187,2.067],"nice":false,"zero":false},"axis":{"values":[0,0.5,1,1.5,2],"labelOverlap":false,"labelExpr":"datum.value % 1 === 0 ? format(datum.value, '.1f') : ''","labelAngle":270,"labelAlign":"center","labelBaseline":"middle","labelPadding":19,"title":"OD","titleAngle":270,"titleBaseline":"middle","titleX":-68}}
 },
 "layer":[
  {"data":{"name":"fit"},"transform":[{"filter":"datum.panel === 'C'"}],"mark":{"type":"line","color":"#4d4d4d","strokeWidth":1.2},"encoding":{}},
  {"data":{"name":"ref"},"transform":[{"filter":"datum.panel === 'C'"}],"mark":{"type":"line","color":"#e3323c","strokeWidth":1.5},"encoding":{}},
  {"data":{"name":"obs"},"transform":[{"filter":"datum.panel === 'C'"}],"mark":{"type":"point","shape":"circle","filled":false,"size":65,"color":"#444444","strokeWidth":1.2,"opacity":1},"encoding":{}}
 ]
},
{
 "width":41,"height":1,"view":{"stroke":null},
 "data":{"values":[{}]},
 "mark":{"type":"point","opacity":0},
 "encoding":{}
},
{
 "width":231,"height":169,
 "title":{"text":"Patient PR02322−56 Rep 1","offset":24},
 "encoding":{
  "x":{"field":"x","type":"quantitative","scale":{"domain":[-7.03,6.48],"nice":false,"zero":false},"axis":{"values":[-6,-4,-2,0,2,4,6],"labelOverlap":false,"labelPadding":15,"title":"log2(Drug Concentration)","titleY":73,"titleBaseline":"middle"}},
  "y":{"field":"od","type":"quantitative","scale":{"domain":[-0.187,2.067],"nice":false,"zero":false},"axis":{"values":[0,0.5,1,1.5,2],"labelOverlap":false,"labelExpr":"datum.value % 1 === 0 ? format(datum.value, '.1f') : ''","labelAngle":270,"labelAlign":"center","labelBaseline":"middle","labelPadding":19,"title":"OD","titleAngle":270,"titleBaseline":"middle","titleX":-70}}
 },
 "layer":[
  {"data":{"name":"fit"},"transform":[{"filter":"datum.panel === 'D'"}],"mark":{"type":"line","color":"#4d4d4d","strokeWidth":1.2},"encoding":{}},
  {"data":{"name":"ref"},"transform":[{"filter":"datum.panel === 'D'"}],"mark":{"type":"line","color":"#e3323c","strokeWidth":1.5},"encoding":{}},
  {"data":{"name":"obs"},"transform":[{"filter":"datum.panel === 'D'"}],"mark":{"type":"point","shape":"circle","filled":false,"size":65,"color":"#444444","strokeWidth":1.2,"opacity":1},"encoding":{}}
 ]
}
]
}
